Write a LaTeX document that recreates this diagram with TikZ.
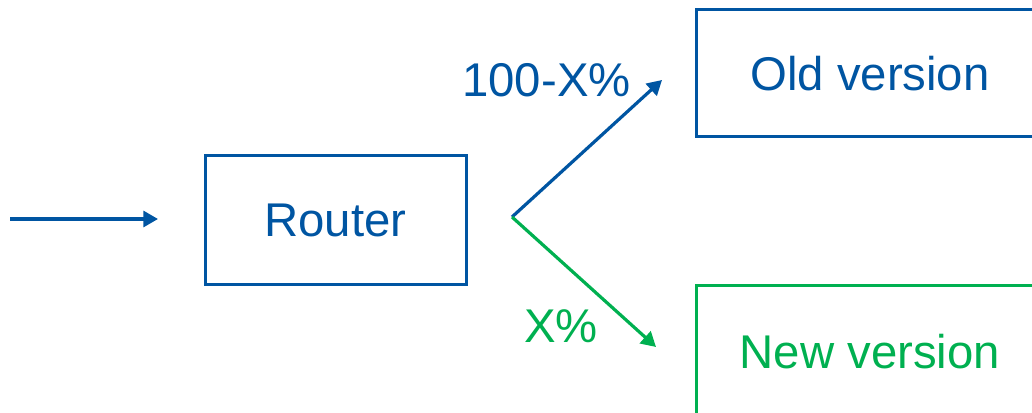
\documentclass[tikz,border=0pt]{standalone}
\usepackage{fontspec}
\setmainfont{Liberation Sans}
\usetikzlibrary{arrows.meta}
\definecolor{oldblue}{RGB}{0,85,162}
\definecolor{newgreen}{RGB}{0,176,80}

\begin{document}
\begin{tikzpicture}[x=0.75pt,y=-0.75pt,
	boxnode/.style={draw,line width=2.25pt,minimum width=261pt,minimum height=96pt,inner sep=0pt,font=\fontsize{35.5}{42}\selectfont},
	labelnode/.style={anchor=base,inner sep=0pt,font=\fontsize{35.5}{42}\selectfont},
	flow/.style={line width=2.4pt,-{Triangle[length=11pt,width=12pt]}}]
	\useasboundingbox (0,0) rectangle (1032,413);
	\clip (0,0) rectangle (1032,413);
	\node[boxnode,oldblue,minimum width=195.75pt,minimum height=96.75pt] (router) at (335.5,220.5) {Router};
	\node[boxnode,oldblue,minimum height=95.25pt] (old) at (870,73.5) {Old version};
	\node[boxnode,newgreen,minimum height=99pt] (new) at (870,352) {New version};
	\coordinate (in) at (10,219);
	\coordinate (inend) at (158,219);
	\coordinate (split) at (512,217);
	\coordinate (oldend) at (662,80);
	\coordinate (newend) at (656,347);
	\draw[flow,oldblue] (in) -- (inend);
	\draw[flow,oldblue] (split) -- (oldend);
	\draw[flow,newgreen] (split) -- (newend);
	\node[labelnode,oldblue] (oldshare) at (546.5,97) {100-X\%};
	\node[labelnode,newgreen] (newshare) at (561,343) {X\%};
\end{tikzpicture}
\end{document}
